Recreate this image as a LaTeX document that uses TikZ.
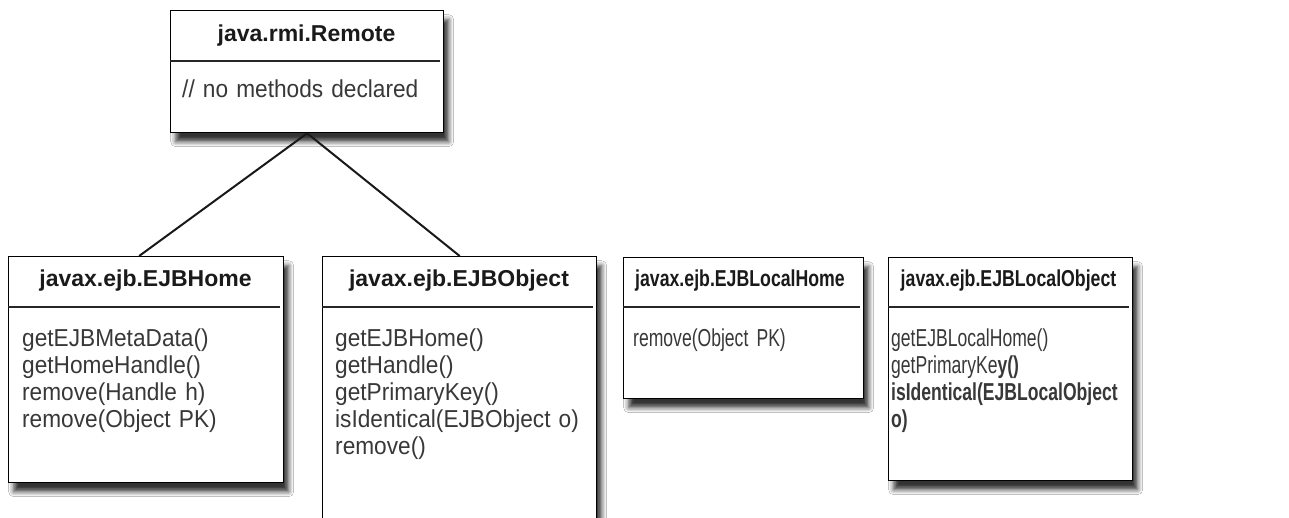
\documentclass[tikz,border=0pt]{standalone}
\usepackage{fontspec}
\setmainfont{Liberation Sans}
\newfontfamily\bodyw[FakeStretch=0.925]{Liberation Sans}
\newfontfamily\bodyn[FakeStretch=0.717]{Liberation Sans}
\newfontfamily\titlew[FakeStretch=1.0]{Liberation Sans}
\newfontfamily\titlen[FakeStretch=0.77]{Liberation Sans}
\usetikzlibrary{shadows.blur}
\definecolor{bodygray}{HTML}{383838}
\definecolor{titleblack}{HTML}{1A1A1A}
\tikzset{
  umlbox/.style={draw=black, line width=1.3pt, fill=white, anchor=north west, inner sep=0pt,
    blur shadow={shadow xshift=5pt, shadow yshift=-9pt, shadow blur radius=5pt, shadow opacity=80}},
  divider/.style={draw=black!85, line width=1.6pt},
  ttl/.style={font=\titlew\bfseries\fontsize{23}{26}\selectfont, text=titleblack, anchor=base, inner sep=0pt},
  ttln/.style={font=\titlen\bfseries\fontsize{23}{26}\selectfont, text=titleblack, anchor=base, inner sep=0pt},
  bodytxt/.style={font=\bodyw\fontsize{24.5}{27}\selectfont, text=bodygray, anchor=base west, inner sep=0pt, align=left, text width=300pt},
  bodytxtn/.style={font=\bodyn\fontsize{24.5}{27}\selectfont, text=bodygray, anchor=base west, inner sep=0pt, align=left, text width=300pt},
  conn/.style={draw=black!90, line width=2pt},
}
\begin{document}
\begin{tikzpicture}[x=1pt, y=-1pt]
\useasboundingbox (0,0) rectangle (1289,518);
\fill[white] (0,0) rectangle (1289,518);

% java.rmi.Remote
\node[umlbox, minimum width=273pt, minimum height=122pt] (remote) at (170,10) {};
\draw[divider] (170,61) -- (440,61);
\node[ttl] (remoteT) at (306.5,42) {java.rmi.Remote};
\node[bodytxt] (remoteB) at (182,98) {// no methods declared};

% EJBHome
\node[umlbox, minimum width=275pt, minimum height=226pt] (home) at (8,256) {};
\draw[divider] (8,307) -- (280,307);
\node[ttl] (homeT) at (145.5,287) {javax.ejb.EJBHome};
\node[bodytxt] (homeB) at (22,346) {getEJBMetaData()\\getHomeHandle()\\remove(Handle h)\\remove(Object PK)};

% EJBObject
\node[umlbox, minimum width=274pt, minimum height=290pt] (object) at (322,256) {};
\draw[divider] (322,307) -- (593,307);
\node[ttl] (objectT) at (459,287) {javax.ejb.EJBObject};
\node[bodytxt] (objectB) at (335,346) {getEJBHome()\\getHandle()\\getPrimaryKey()\\isIdentical(EJBObject o)\\remove()};

% EJBLocalHome
\node[umlbox, minimum width=240pt, minimum height=141pt] (lhome) at (623,257) {};
\draw[divider] (623,307) -- (860,307);
\node[ttln] (lhomeT) at (740,287) {javax.ejb.EJBLocalHome};
\node[bodytxtn] (lhomeB) at (633,346) {remove(Object PK)};

% EJBLocalObject
\node[umlbox, minimum width=244pt, minimum height=223pt] (lobject) at (888,257) {};
\draw[divider] (888,307) -- (1129,307);
\node[ttln] (lobjectT) at (1008.5,287) {javax.ejb.EJBLocalObject};
\node[bodytxtn] (lobjectB) at (891,346) {getEJBLocalHome()\\getPrimaryKe\textbf{y()}\\\textbf{isIdentical(EJBLocalObject}\\\textbf{o)}};

% inheritance connectors
\draw[conn] (remote.south) -- ([xshift=-7pt]home.north);
\draw[conn] (remote.south) -- (object.north);
\end{tikzpicture}
\end{document}
